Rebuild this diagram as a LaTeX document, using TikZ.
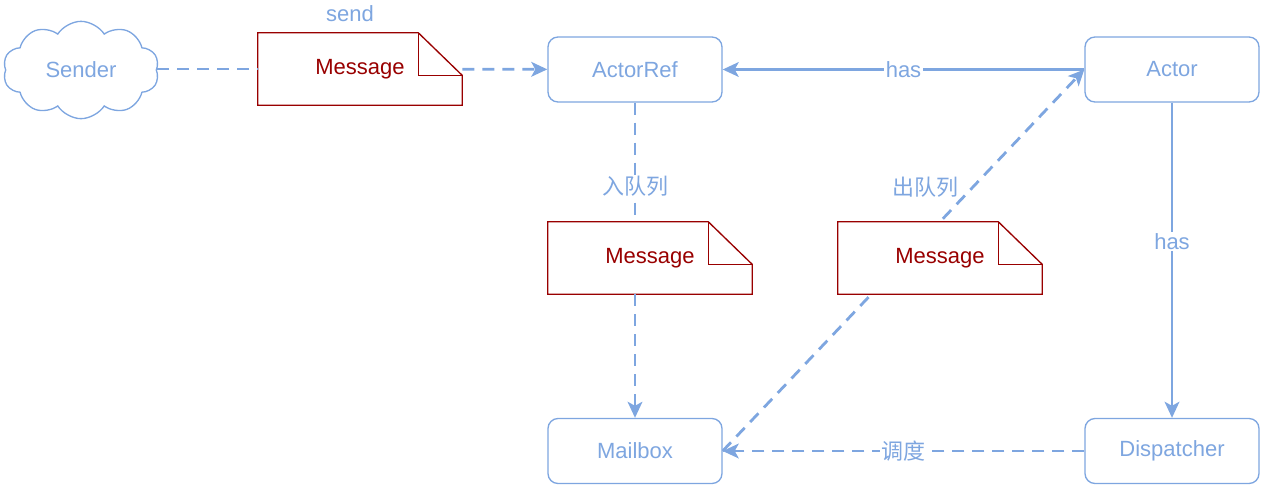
\documentclass[tikz,border=0pt]{standalone}
\usepackage{fontspec}
\setmainfont{Liberation Sans}
\newfontfamily\cjk{Noto Sans CJK SC}
\usepackage{tikz}
\usetikzlibrary{arrows.meta}
\usetikzlibrary{shapes.symbols}
\usetikzlibrary{backgrounds}
\definecolor{edgeblue}{RGB}{126,166,224}
\definecolor{msgred}{RGB}{153,0,0}
\tikzset{
  actbox/.style={draw=edgeblue, line width=1pt, rounded corners=7.5pt, fill=white,
    minimum width=130.5pt, minimum height=48.75pt, text=edgeblue},
  msgbox/.style={fill=white, minimum width=153pt, minimum height=54pt, inner sep=0pt, text=msgred},
  msgline/.style={draw=msgred, line width=1pt, line join=miter},
  cloudbox/.style={cloud, cloud puffs=10, cloud puff arc=115, aspect=1.6, draw=edgeblue, line width=1pt,
    minimum width=117pt, minimum height=73pt, inner sep=0pt, text=edgeblue},
  dline/.style={edgeblue, line width=2.1pt, dash pattern=on 9pt off 6pt},
  sline/.style={edgeblue, line width=2.1pt},
  tip/.style={-{Stealth[length=12pt,width=11pt,inset=3pt]}},
  lbl/.style={fill=white, text=edgeblue, inner sep=1pt},
}
% note outline with folded corner
\newcommand{\notefold}[1]{%
  \draw[msgline] (#1.north west) -- ([xshift=-33pt]#1.north east) -- ([yshift=32pt]#1.north east)
    -- (#1.south east) -- (#1.south west) -- cycle;
  \draw[msgline] ([xshift=-33pt]#1.north east) |- ([yshift=32pt]#1.north east);}
\begin{document}
\begin{tikzpicture}[x=0.75pt,y=0.75pt,yscale=-1,xscale=1]
\fontsize{16.5}{20}\selectfont
\useasboundingbox (0,0) rectangle (1277,501);

\node[cloudbox] (snd) at (81,70) {Sender};
\node[msgbox] (m1) at (360,69) {Message};
\node[actbox] (ref) at (635,69.5) {ActorRef};
\node[actbox] (act) at (1172,69.5) {Actor};
\node[msgbox] (m2) at (650,258) {Message};
\node[msgbox] (m3) at (940,258) {Message};
\node[actbox] (mb) at (635,451) {Mailbox};
\node[actbox] (dsp) at (1172,451) {Dispatcher};
\notefold{m1}
\notefold{m2}
\notefold{m3}

\node[lbl] (sendlbl) at (350,14) {send};
\node[lbl] (deq) at (925,187) {\cjk 出队列};

\draw[dline] (snd.east |- m1) -- (m1);
\draw[dline,tip] (m1) -- (ref);
\draw[sline,tip] (act) -- node[lbl]{has} (ref);
\draw[dline] (ref.south) -- node[lbl,pos=0.7]{\cjk 入队列} (ref.south |- m2.north);
\draw[dline,tip] (ref.south |- m2.south) -- (mb.north);
\draw[sline,tip] (act) -- node[lbl,pos=0.44]{has} (dsp);
\draw[dline,tip] (dsp) -- node[lbl]{\cjk 调度} (mb);
\begin{scope}[on background layer]
\draw[dline,tip] (mb.east) -- (act.west);
\end{scope}
\end{tikzpicture}
\end{document}
